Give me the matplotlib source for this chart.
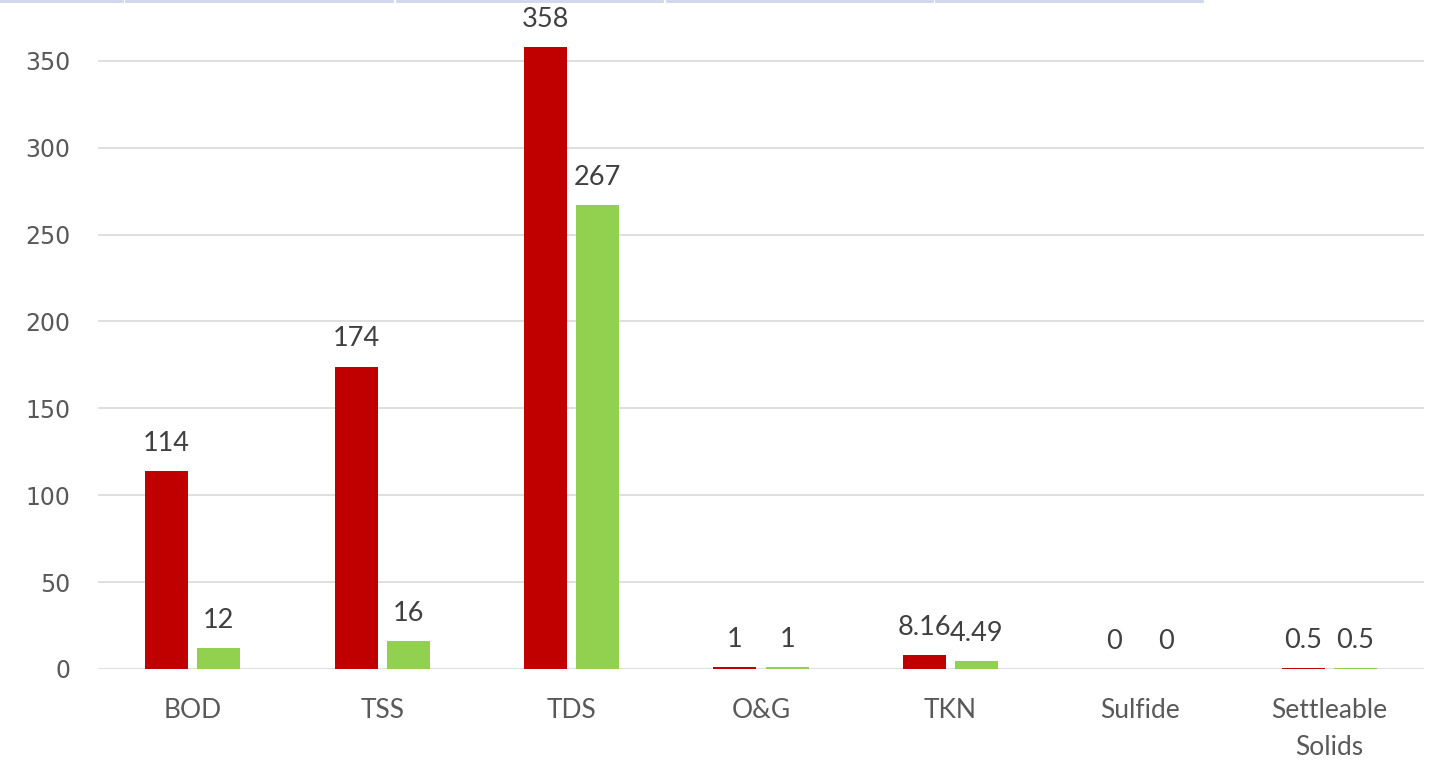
import numpy as np
import matplotlib
matplotlib.use("Agg")
import matplotlib.pyplot as plt
from matplotlib.lines import Line2D

categories = ["BOD", "TSS", "TDS", "O&G", "TKN", "Sulfide", "Settleable\nSolids"]
influent = [114, 174, 358, 1, 8.16, 0, 0.5]
effluent = [12, 16, 267, 1, 4.49, 0, 0.5]
yticks = [0, 50, 100, 150, 200, 250, 300, 350]

plt.rcParams['font.family'] = ['Lato', 'DejaVu Sans']

fig = plt.figure(figsize=(14.3, 7.61), dpi=100)
# axes spans x 98..1424, y 0..669 (pixels)
ax = fig.add_axes([98 / 1430, 1 - 669 / 761, (1424 - 98) / 1430, 669 / 761])

x = np.arange(len(categories))
w = 0.227
off = 0.138
b1 = ax.bar(x - off, influent, w, color="#C00000")
b2 = ax.bar(x + off, effluent, w, color="#92D050")

def fmt(v):
    return f"{v:g}"

for bars, vals in ((b1, influent), (b2, effluent)):
    for b, v in zip(bars, vals):
        ax.annotate(fmt(v), (b.get_x() + b.get_width() / 2, v),
                    xytext=(0, 11), textcoords="offset points",
                    ha="center", va="bottom", fontsize=19.5, color="#404040")

ax.set_xlim(-0.5, len(categories) - 0.5)
ax.set_ylim(0, 385)
ax.set_yticks(yticks)
ax.yaxis.grid(True, color="#D9D9D9", linewidth=1.2)
ax.set_axisbelow(True)
for s in ax.spines.values():
    s.set_visible(False)
ax.tick_params(axis="both", length=0, colors="#595959")
ax.tick_params(axis="x", labelsize=19, pad=21)
ax.tick_params(axis="y", labelsize=17, pad=20)
for t in ax.get_yticklabels():
    t.set_family("DejaVu Sans")
ax.set_xticks(x)
ax.set_xticklabels(categories, linespacing=1.6)

# faint remnant lines along the top edge
for x0, x1 in [(0, 122), (126, 392), (397, 662), (667, 932), (936, 1202)]:
    fig.add_artist(Line2D([x0 / 1430, x1 / 1430], [1 - 1 / 761, 1 - 1 / 761],
                          color="#CFD5EA", linewidth=2))

fig.savefig("out.png", dpi=100)
